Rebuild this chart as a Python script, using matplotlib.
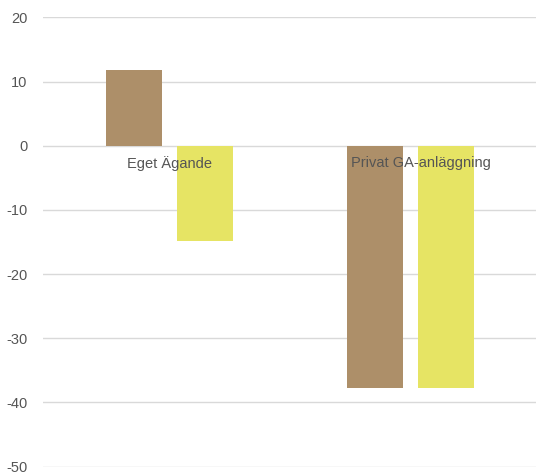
import matplotlib
matplotlib.use("Agg")
import matplotlib.pyplot as plt
import numpy as np

plt.rcParams['font.family'] = ['Liberation Sans', 'DejaVu Sans']

categories = ["Eget Ägande", "Privat GA-anläggning"]
series_a = [11.8, -37.7]
series_b = [-14.8, -37.7]
colors = ["#AD8F69", "#E6E464"]
y_ticks = [20, 10, 0, -10, -20, -30, -40, -50]

fig = plt.figure(figsize=(5.36, 4.75), dpi=100)
ax = fig.add_axes([43 / 536, 1 - 466.7 / 475, (536 - 43) / 536, (466.7 - 17.3) / 475])

x = np.arange(len(categories))
width = 0.233
offset = 0.148
ax.bar(x - offset, series_a, width, color=colors[0], zorder=3)
ax.bar(x + offset, series_b, width, color=colors[1], zorder=3)

ax.set_ylim(-50, 20)
ax.set_xlim(-0.525, 1.522)
ax.set_yticks(y_ticks)
ax.set_yticklabels([str(t) for t in y_ticks], fontsize=10.5, color="#555555")
ax.tick_params(axis='y', length=0, pad=11)
ax.set_xticks([])
ax.grid(axis='y', color="#D9D9D9", linewidth=1.0, zorder=0)
for s in ax.spines.values():
    s.set_visible(False)

# category names sit just under the zero line
label_shift = [0.0, 0.043]
for xi, name, dx in zip(x, categories, label_shift):
    ax.text(xi + dx, -2.7, name, ha='center', va='center', fontsize=10.5,
            color="#555555", zorder=4)

fig.savefig("out.png", dpi=100, facecolor="white")
